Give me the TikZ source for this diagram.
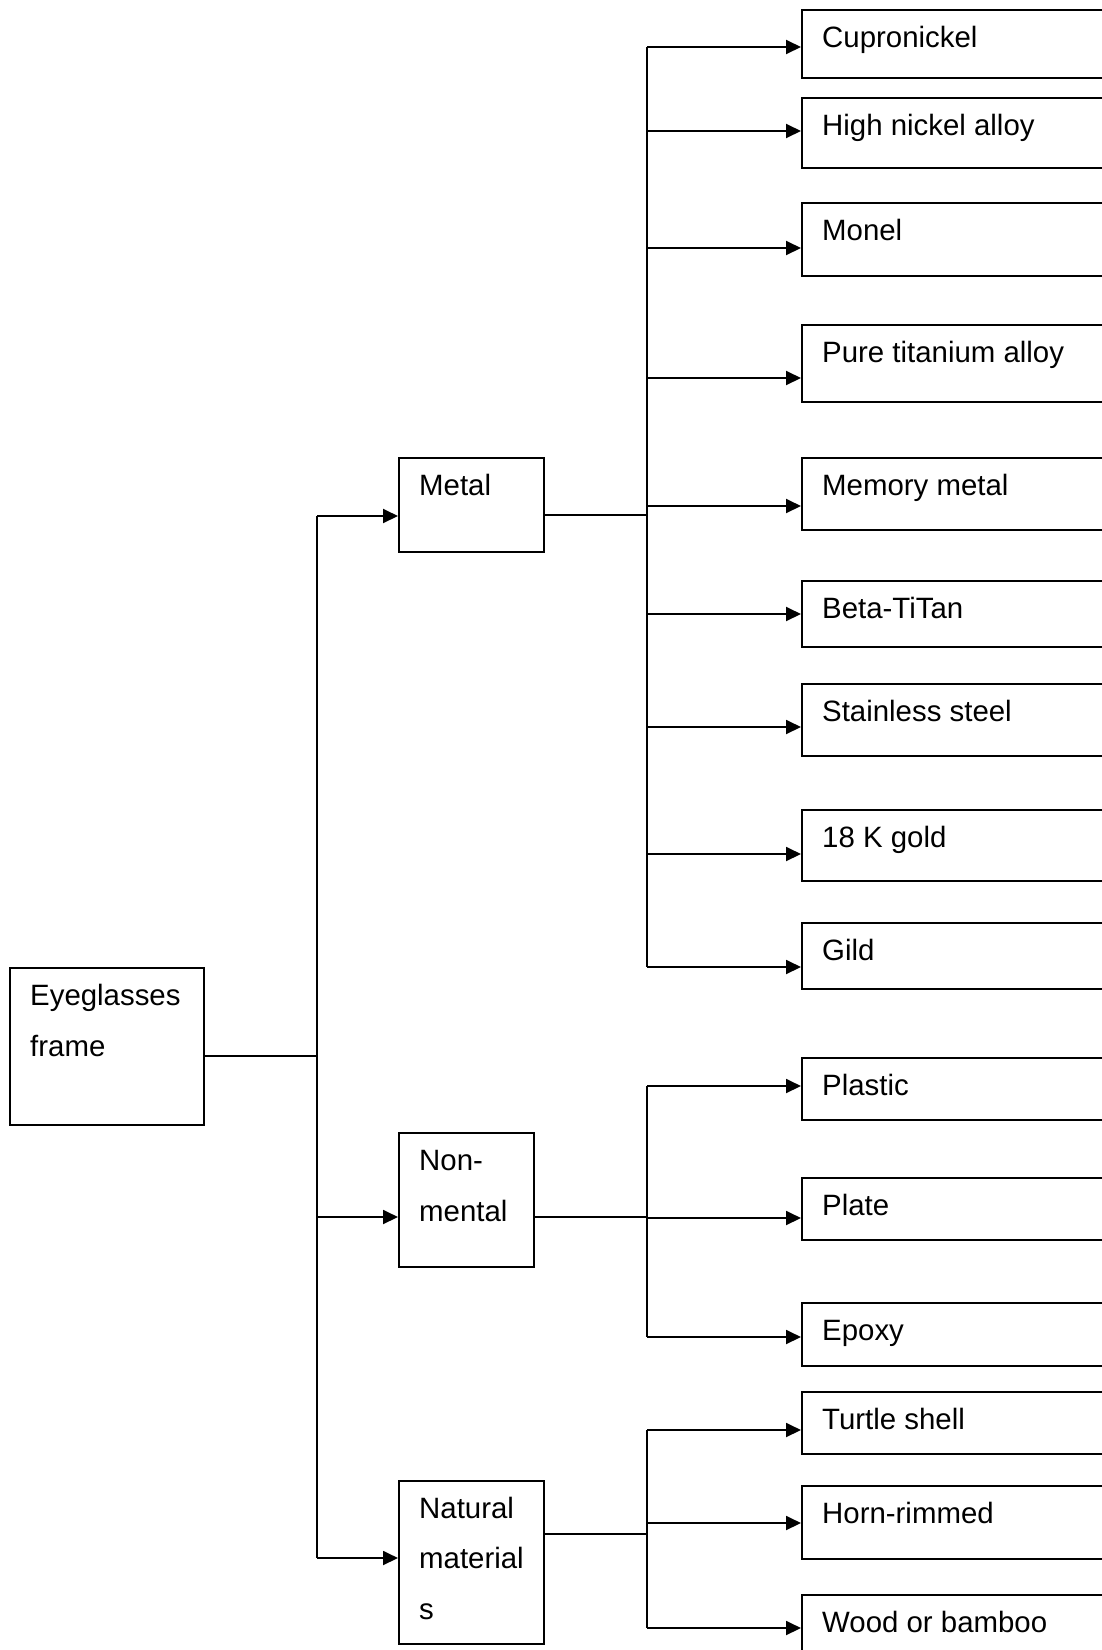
\documentclass[tikz,border=0pt]{standalone}
\usepackage{fontspec}
\setmainfont{Liberation Sans}
\usetikzlibrary{arrows.meta,calc}
\newcommand\bx[7]{%
  \node[box,minimum width=#4pt,minimum height=#5pt] (#1) at (#2,#3) {};
  \coordinate (#1-in) at (#2,#6);
  \node[lbl] (#1-t) at ($(#1.north west)+(21,38)$) {#7};}
\begin{document}
\begin{tikzpicture}[x=1pt,y=-1pt,
  box/.style={draw,rectangle,line width=2pt,inner sep=0pt,anchor=north west},
  lbl/.style={anchor=base west,inner sep=0pt,font=\fontsize{29.4}{35}\selectfont},
  ln/.style={line width=1.9pt},
  arr/.style={ln,-{Triangle[length=15pt,width=14pt]}}]
\useasboundingbox (0,0) rectangle (1102,1650);
\clip (0,0) rectangle (1102,1650);
\fill[white] (0,0) rectangle (1102,1650);
% root
\node[box,minimum width=194pt,minimum height=157pt] (eye) at (9,967) {};
\node[lbl] (eye-t1) at ($(eye.north west)+(21,38)$) {Eyeglasses};
\node[lbl] (eye-t2) at ($(eye.north west)+(21,89)$) {frame};
% second level
\bx{metal}{398}{457}{145}{94}{516}{Metal}
\node[box,minimum width=135pt,minimum height=134pt] (non) at (398,1132) {};
\coordinate (non-in) at (398,1217);
\node[lbl] (non-t1) at ($(non.north west)+(21,38)$) {Non-};
\node[lbl] (non-t2) at ($(non.north west)+(21,89)$) {mental};
\node[box,minimum width=145pt,minimum height=163pt] (nat) at (398,1480) {};
\coordinate (nat-in) at (398,1558);
\node[lbl] (nat-t1) at ($(nat.north west)+(21,38)$) {Natural};
\node[lbl] (nat-t2) at ($(nat.north west)+(21,88)$) {material};
\node[lbl] (nat-t3) at ($(nat.north west)+(21,139)$) {s};
% leaves
\bx{cup}{801}{9}{330}{68}{47}{Cupronickel}
\bx{hna}{801}{97}{330}{70}{131}{High nickel alloy}
\bx{mon}{801}{202}{330}{73}{248}{Monel}
\bx{pti}{801}{324}{330}{77}{378}{Pure titanium alloy}
\bx{mem}{801}{457}{330}{72}{506}{Memory metal}
\bx{bet}{801}{580}{330}{66}{614}{Beta-TiTan}
\bx{sst}{801}{683}{330}{72}{727}{Stainless steel}
\bx{gold}{801}{809}{330}{71}{854}{18 K gold}
\bx{gild}{801}{922}{330}{66}{967}{Gild}
\bx{pla}{801}{1057}{330}{62}{1086}{Plastic}
\bx{plt}{801}{1177}{330}{62}{1218}{Plate}
\bx{epo}{801}{1302}{330}{63}{1337}{Epoxy}
\bx{tur}{801}{1391}{330}{62}{1430}{Turtle shell}
\bx{hor}{801}{1485}{330}{73}{1523}{Horn-rimmed}
\bx{woo}{801}{1594}{330}{70}{1628}{Wood or bamboo}
% buses
\coordinate (tbus) at (317,1056);
\coordinate (metal-out) at (543,515);
\coordinate (non-out) at (533,1217);
\coordinate (nat-out) at (543,1534);
\coordinate (mbus) at (647,515);
\coordinate (nbus) at (647,1217);
\coordinate (natbus) at (647,1534);
% root connectors
\draw[ln] (eye.east |- tbus) -- (tbus);
\draw[ln] (tbus |- metal-in) -- (tbus |- nat-in);
\draw[arr] (tbus |- metal-in) -- (metal-in);
\draw[arr] (tbus |- non-in) -- (non-in);
\draw[arr] (tbus |- nat-in) -- (nat-in);
% metal connectors
\draw[ln] (metal-out) -- (mbus);
\draw[ln] (mbus |- cup-in) -- (mbus |- gild-in);
\foreach \n in {cup,hna,mon,pti,mem,bet,sst,gold,gild}
  \draw[arr] (mbus |- \n-in) -- (\n-in);
% non-metal connectors
\draw[ln] (non-out) -- (nbus);
\draw[ln] (nbus |- pla-in) -- (nbus |- epo-in);
\foreach \n in {pla,plt,epo}
  \draw[arr] (nbus |- \n-in) -- (\n-in);
% natural connectors
\draw[ln] (nat-out) -- (natbus);
\draw[ln] (natbus |- tur-in) -- (natbus |- woo-in);
\foreach \n in {tur,hor,woo}
  \draw[arr] (natbus |- \n-in) -- (\n-in);
\end{tikzpicture}
\end{document}
